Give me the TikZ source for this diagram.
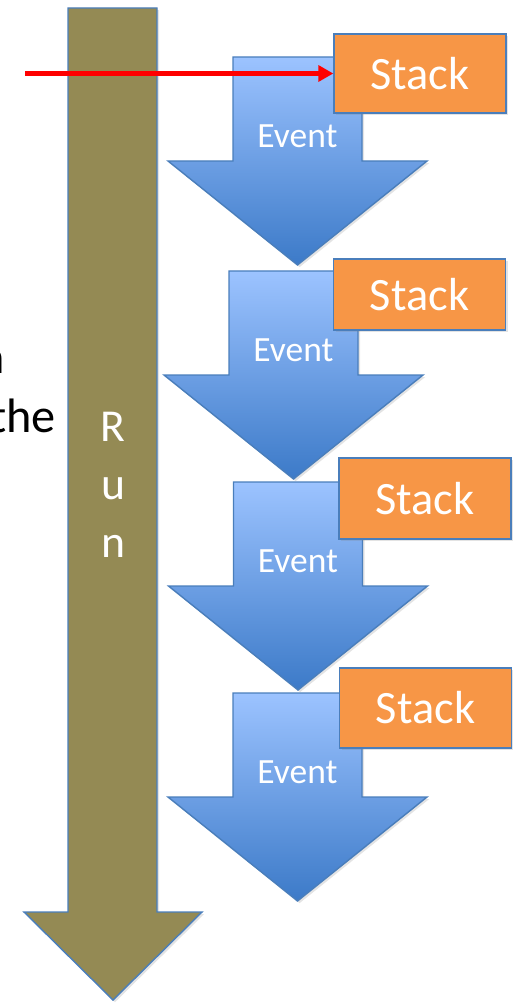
\documentclass[tikz,border=0pt]{standalone}
\usepackage{fontspec}
\setmainfont{Carlito}
\usetikzlibrary{
    arrows.meta,
    positioning,
    shadows
}
\definecolor{runolive}{RGB}{148, 138, 84}
\definecolor{officeblue}{RGB}{74, 126, 187}
\definecolor{eventlight}{RGB}{156, 195, 255}
\definecolor{eventdark}{RGB}{60, 122, 200}
\definecolor{stackorange}{RGB}{247, 150, 70}

% block arrow with its label: name, centre x, shaft top
\newcommand{\eventarrow}[3]{%
    \path[eventshape] (#2-64.5,#3) -- (#2+64.5,#3) -- (#2+64.5,#3+104)
        -- (#2+129.5,#3+104) -- (#2,#3+208) -- (#2-129.5,#3+104)
        -- (#2-64.5,#3+104) -- cycle;
    \node[eventlabel] (#1) at (#2,#3+79) {Event};
}

\begin{document}
\begin{tikzpicture}[
                x=0.02cm, y=-0.02cm,
                softshadow/.style={drop shadow={opacity=0.22, shadow xshift=1.2pt, shadow yshift=-1.2pt}},
                runshape/.style={fill=runolive, draw=officeblue, line width=0.8pt, softshadow},
                eventshape/.style={top color=eventlight, bottom color=eventdark, draw=officeblue, line width=0.8pt, softshadow},
                eventlabel/.style={text=white, font=\fontsize{20.2}{24}\selectfont, inner sep=0},
                stackbox/.style={draw=officeblue, fill=stackorange, line width=0.8pt, text=white, font=\fontsize{26.4}{30}\selectfont, inner sep=0, minimum width=3.44cm, softshadow},
                runlabel/.style={text=white, font=\fontsize{26}{33}\selectfont, align=center, inner sep=0},
                sidetext/.style={font=\fontsize{27.5}{34}\selectfont, inner sep=0},
                wire/.style={-{Triangle[length=8.5pt, width=9pt]}, draw=red, line width=2.3pt}
            ]
                \useasboundingbox (0,0) rectangle (513,1003);
                \clip (0,0) rectangle (513,1003);

                % Left text, cut by the page edge
                \node[sidetext, anchor=base east] (cut) at (5.5,373) {n};
                \node[sidetext, anchor=base east] (the) at (56,432) {the};

                % Run
                \path[runshape] (68,8) -- (157,8) -- (157,912) -- (202,912) -- (113,1000)
                    -- (24,912) -- (68,912) -- cycle;
                \node[runlabel] (run) at (113,485) {R\\u\\n};

                % Events
                \eventarrow{ev1}{297.5}{57}
                \eventarrow{ev2}{293.5}{271}
                \eventarrow{ev3}{298}{482}
                \eventarrow{ev4}{297.5}{693}

                % Stacks
                \node[stackbox, minimum height=1.58cm] (stack1) at (420,73.5) {Stack};
                \node[stackbox, minimum height=1.42cm] (stack2) at (419.5,294.5) {Stack};
                \node[stackbox, minimum height=1.62cm] (stack3) at (425,498.5) {Stack};
                \node[stackbox, minimum height=1.60cm] (stack4) at (425.5,708) {Stack};

                % Call into the first stack
                \coordinate (caller) at (25,73.5);
                \draw[wire] (caller) -- (stack1.west);
            \end{tikzpicture}
\end{document}
